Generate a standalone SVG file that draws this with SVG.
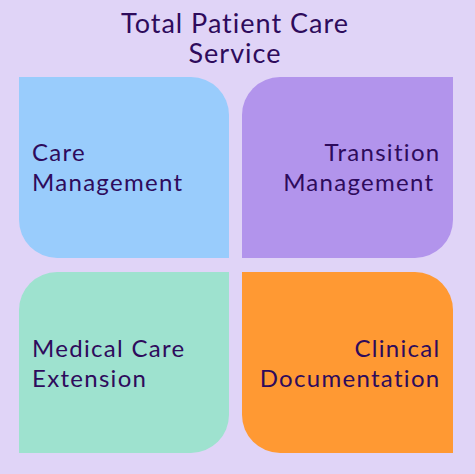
<svg xmlns="http://www.w3.org/2000/svg" width="475" height="474" viewBox="0 0 475 474">
<style>
text{font-family:Lato,"Noto Sans",sans-serif;fill:#2E0B5C;font-size:24px;letter-spacing:1.3px}
.t{font-size:27px;letter-spacing:1px}
.e{text-anchor:end}
.m{text-anchor:middle}
</style>
<rect width="475" height="474" fill="#E0D4F7"/>
<g id="title"><text class="t m" x="235" y="33">Total Patient Care</text><text class="t m" x="235" y="63">Service</text></g>
<g id="care-management">
<path d="M19 77 H191 A38 38 0 0 1 229 115 V258 H57 A38 38 0 0 1 19 220 Z" fill="#99CCFC"/>
<text x="32" y="161">Care</text><text x="32" y="191">Management</text>
</g>
<g id="transition-management">
<path d="M280 77 H453 V220 A38 38 0 0 1 415 258 H242 V115 A38 38 0 0 1 280 77 Z" fill="#B294EC"/>
<text class="e" x="440.5" y="161">Transition</text><text class="e" x="434.5" y="191">Management</text>
</g>
<g id="medical-care-extension">
<path d="M57 272 H229 V415 A38 38 0 0 1 191 453 H19 V310 A38 38 0 0 1 57 272 Z" fill="#9EE2CF"/>
<text x="32" y="357">Medical Care</text><text x="32" y="387">Extension</text>
</g>
<g id="clinical-documentation">
<path d="M242 272 H415 A38 38 0 0 1 453 310 V453 H280 A38 38 0 0 1 242 415 Z" fill="#FF9933"/>
<text class="e" x="440.5" y="357">Clinical</text><text class="e" x="440.5" y="387">Documentation</text>
</g>
<g id="connectors"/>
</svg>
